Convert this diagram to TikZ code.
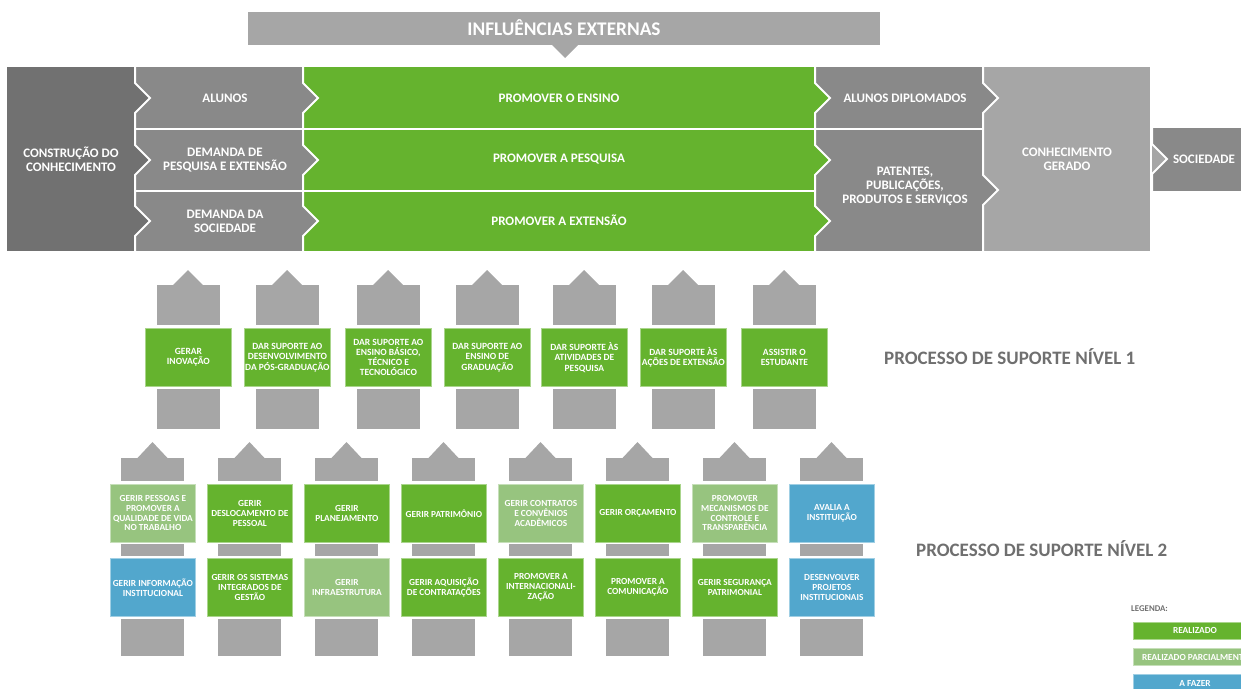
\documentclass[tikz,border=0pt]{standalone}
\usepackage{fontspec}
\setmainfont{Carlito}
\definecolor{dgray}{HTML}{717171}
\definecolor{mgray}{HTML}{898989}
\definecolor{lgray}{HTML}{A6A6A6}
\definecolor{grn}{HTML}{65B32E}
\definecolor{lgrn}{HTML}{97C47F}
\definecolor{blu}{HTML}{52A7CD}
\definecolor{htxt}{HTML}{6F6F6F}
\tikzset{
  sep/.style={white, line width=2pt},
  lbl/.style={text=white, font=\bfseries\fontsize{13}{14}\selectfont, align=center, inner sep=0pt},
  bone/.style={anchor=north west, minimum width=86pt, minimum height=58pt, inner sep=0pt,
    text=white, font=\bfseries\fontsize{9.5}{10.3}\selectfont, align=center, line width=0.8pt},
  btwo/.style={anchor=north west, minimum width=85pt, minimum height=58pt, inner sep=0pt,
    text=white, font=\bfseries\fontsize{9.3}{9.7}\selectfont, align=center, line width=0.8pt},
  sg/.style={fill=grn, draw=grn!55!white},
  sl/.style={fill=lgrn, draw=lgrn!55!white},
  sb/.style={fill=blu, draw=blu!55!white},
  head/.style={anchor=west, text=htxt, font=\bfseries\fontsize{19}{22}\selectfont, inner sep=0pt},
  legbox/.style={minimum width=124pt, minimum height=17pt, inner sep=0pt, text=white,
    font=\bfseries\fontsize{9.3}{10}\selectfont, line width=0.8pt},
}
\newcommand\chevtip[3]{\fill[#3] (#1,#2-15) -- (#1+15,#2) -- (#1,#2+15) -- cycle;}
\newcommand\chevline[1]{\draw[sep] (#1,67)--(#1,83)--(#1+15,98)--(#1,113)--(#1,145)--(#1+15,160)--(#1,175)--(#1,206)--(#1+15,221)--(#1,236)--(#1,251);}
\begin{document}
\begin{tikzpicture}[x=1pt,y=-1pt]
\useasboundingbox (0,0) rectangle (1241,688);
\clip (0,0) rectangle (1241,688);
% banner
\fill[lgray] (248,12) rectangle (880,45);
\fill[lgray] (552,45) -- (565,58) -- (578,45) -- cycle;
\node[lbl, font=\bfseries\fontsize{19.3}{21}\selectfont] (ban) at (564,28) {INFLUÊNCIAS EXTERNAS};
% main band
\fill[dgray] (7,67) rectangle (135,251);
\fill[mgray] (135,67) rectangle (303,251);
\fill[grn] (303,67) rectangle (815,251);
\fill[mgray] (815,67) rectangle (983,251);
\fill[lgray] (983,67) rectangle (1150,251);
\fill[mgray] (1152,128) rectangle (1250,191);
\foreach \c in {98,160,221} {
  \chevtip{135}{\c}{dgray}
  \chevtip{303}{\c}{mgray}
  \chevtip{815}{\c}{grn}
}
\chevtip{983}{98}{mgray}
\chevtip{983}{190}{mgray}
\chevtip{1152}{159}{lgray}
\draw[sep] (135,129) -- (983,129);
\draw[sep] (135,191) -- (815,191);
\chevline{135}
\chevline{303}
\chevline{815}
\draw[sep] (983,67)--(983,83)--(998,98)--(983,113)--(983,175)--(998,190)--(983,205)--(983,251);
\draw[sep] (1152,128)--(1152,144)--(1167,159)--(1152,174)--(1152,191);
% main band labels
\node[lbl] (cons) at (71,159) {CONSTRUÇÃO DO\\CONHECIMENTO};
\node[lbl] (alun) at (225,98) {ALUNOS};
\node[lbl] (dpe) at (225,160) {DEMANDA DE\\PESQUISA E EXTENSÃO};
\node[lbl] (dso) at (225,221) {DEMANDA DA\\SOCIEDADE};
\node[lbl] (pen) at (559,98) {PROMOVER O ENSINO};
\node[lbl] (ppe) at (559,159) {PROMOVER A PESQUISA};
\node[lbl] (pex) at (559,220) {PROMOVER A EXTENSÃO};
\node[lbl] (adi) at (905,98) {ALUNOS DIPLOMADOS};
\node[lbl] (pat) at (905,186) {PATENTES,\\PUBLICAÇÕES,\\PRODUTOS E SERVIÇOS};
\node[lbl] (cge) at (1067,159) {CONHECIMENTO\\GERADO};
\node[lbl] (soc) at (1204,159) {SOCIEDADE};
% level 1 stubs
\foreach \c in {188,287,388,487,584,683,784} {
  \fill[lgray] (\c-31.5,285) rectangle (\c+31.5,325);
  \fill[lgray] (\c-15,285) -- (\c,270) -- (\c+15,285) -- cycle;
  \fill[lgray] (\c-31.5,389) rectangle (\c+31.5,429);
}
\node[bone, sg] (g1) at (145,328) {GERAR\\INOVAÇÃO};
\node[bone, sg] (g2) at (244,328) {DAR SUPORTE AO\\DESENVOLVIMENTO\\DA PÓS-GRADUAÇÃO};
\node[bone, sg] (g3) at (345,328) {DAR SUPORTE AO\\ENSINO BÁSICO,\\TÉCNICO E\\TECNOLÓGICO};
\node[bone, sg] (g4) at (444,328) {DAR SUPORTE AO\\ENSINO DE\\GRADUAÇÃO};
\node[bone, sg] (g5) at (541,328) {DAR SUPORTE ÀS\\ATIVIDADES DE\\PESQUISA};
\node[bone, sg] (g6) at (640,328) {DAR SUPORTE ÀS\\AÇÕES DE EXTENSÃO};
\node[bone, sg] (g7) at (741,328) {ASSISTIR O\\ESTUDANTE};
\node[head] (h1) at (884,357) {PROCESSO DE SUPORTE NÍVEL 1};
% level 2 stubs
\foreach \c in {152.5,249.5,346.5,443.5,540.5,637.5,734.5,831.5} {
  \fill[lgray] (\c-31.5,458) rectangle (\c+31.5,481);
  \fill[lgray] (\c-15,458) -- (\c,442) -- (\c+15,458) -- cycle;
  \fill[lgray] (\c-31.5,544) rectangle (\c+31.5,556);
  \fill[lgray] (\c-31.5,619) rectangle (\c+31.5,656);
}
\node[btwo, sl] (a1) at (110,484) {GERIR PESSOAS E\\PROMOVER A\\QUALIDADE DE VIDA\\NO TRABALHO};
\node[btwo, sg] (a2) at (207,484) {GERIR\\DESLOCAMENTO DE\\PESSOAL};
\node[btwo, sg] (a3) at (304,484) {GERIR\\PLANEJAMENTO};
\node[btwo, sg] (a4) at (401,484) {GERIR PATRIMÔNIO};
\node[btwo, sl] (a5) at (498,484) {GERIR CONTRATOS\\E CONVÊNIOS\\ACADÊMICOS};
\node[btwo, sg] (a6) at (595,484) {GERIR ORÇAMENTO};
\node[btwo, sl] (a7) at (692,484) {PROMOVER\\MECANISMOS DE\\CONTROLE E\\TRANSPARÊNCIA};
\node[btwo, sb] (a8) at (789,484) {AVALIA A\\INSTITUIÇÃO};
\node[btwo, sb] (b1) at (110,558) {GERIR INFORMAÇÃO\\INSTITUCIONAL};
\node[btwo, sg] (b2) at (207,558) {GERIR OS SISTEMAS\\INTEGRADOS DE\\GESTÃO};
\node[btwo, sl] (b3) at (304,558) {GERIR\\INFRAESTRUTURA};
\node[btwo, sg] (b4) at (401,558) {GERIR AQUISIÇÃO\\DE CONTRATAÇÕES};
\node[btwo, sg] (b5) at (498,558) {PROMOVER A\\INTERNACIONALI-\\ZAÇÃO};
\node[btwo, sg] (b6) at (595,558) {PROMOVER A\\COMUNICAÇÃO};
\node[btwo, sg] (b7) at (692,558) {GERIR SEGURANÇA\\PATRIMONIAL};
\node[btwo, sb] (b8) at (789,558) {DESENVOLVER\\PROJETOS\\INSTITUCIONAIS};
\node[head] (h2) at (916,549) {PROCESSO DE SUPORTE NÍVEL 2};
% legend
\node[anchor=west, inner sep=0pt, text=htxt, font=\bfseries\fontsize{8.8}{10}\selectfont] (leg) at (1131,609) {LEGENDA:};
\node[legbox, sg] (lr) at (1195,630.5) {REALIZADO};
\node[legbox, sl] (lp) at (1195,657) {REALIZADO PARCIALMENTE};
\node[legbox, sb] (lf) at (1195,683) {A FAZER};
\end{tikzpicture}
\end{document}
